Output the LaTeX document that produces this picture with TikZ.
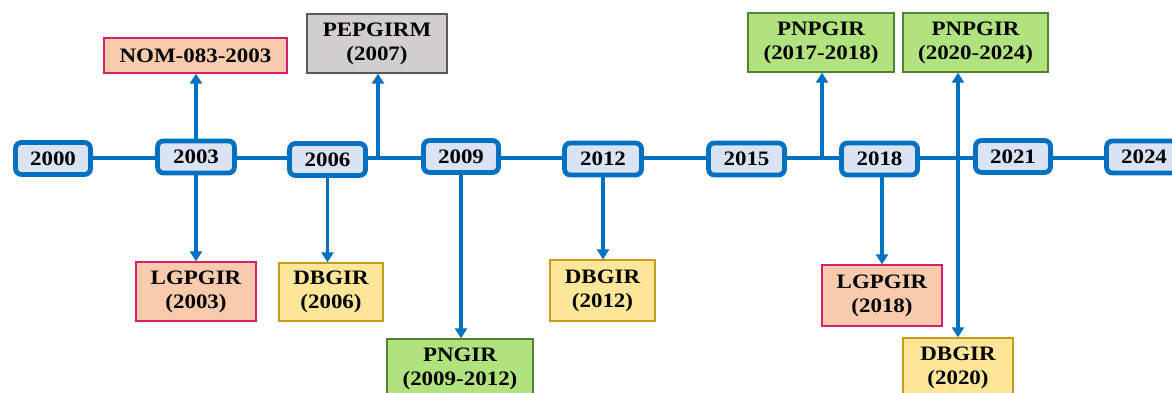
\documentclass[tikz,border=0pt]{standalone}
\usepackage{fontspec}
\setmainfont{Liberation Serif}[FakeStretch=1.12]
\usetikzlibrary{arrows.meta}
\definecolor{tlblue}{RGB}{0,112,192}
\definecolor{yearfill}{RGB}{218,227,243}
\definecolor{pinkfill}{RGB}{248,203,173}
\definecolor{pinkdraw}{RGB}{214,32,110}
\definecolor{yelfill}{RGB}{255,230,153}
\definecolor{yeldraw}{RGB}{196,156,30}
\definecolor{greyfill}{RGB}{208,206,206}
\definecolor{greydraw}{RGB}{89,89,89}
\definecolor{grnfill}{RGB}{176,226,126}
\definecolor{grndraw}{RGB}{84,130,53}
\tikzset{
  txt/.style={font=\bfseries\fontsize{20.5}{24}\selectfont, align=center, inner sep=0pt},
  year/.style={txt, draw=tlblue, fill=yearfill, line width=4.8pt, rounded corners=6pt, minimum width=#1, minimum height=32pt},
  lbl/.style={txt, line width=1.4pt, minimum width=#1},
  pinkbox/.style={lbl=#1, draw=pinkdraw, fill=pinkfill},
  yelbox/.style={lbl=#1, draw=yeldraw, fill=yelfill},
  greybox/.style={lbl=#1, draw=greydraw, fill=greyfill},
  grnbox/.style={lbl=#1, draw=grndraw, fill=grnfill},
  tl/.style={draw=tlblue, line width=4pt},
  arr/.style={draw=tlblue, line width=3.5pt, -{Triangle[width=12pt,length=10pt]}},
  darr/.style={draw=tlblue, line width=3.5pt, {Triangle[width=12pt,length=10pt]}-{Triangle[width=12pt,length=10pt]}}
}
\begin{document}
\begin{tikzpicture}[x=1pt,y=-1pt]
\useasboundingbox[fill=white] (0,0) rectangle (1172,393);
\coordinate (tly) at (0,158);
\coordinate (c07) at (378,158);
\coordinate (c17) at (822,158);
% year nodes
\node[year=75pt] (y2000) at (53,158.5) {2000};
\node[year=77pt] (y2003) at (196,157) {2003};
\node[year=76pt] (y2006) at (327.5,159.5) {2006};
\node[year=75pt] (y2009) at (461,156.5) {2009};
\node[year=77pt] (y2012) at (603,159) {2012};
\node[year=76pt] (y2015) at (746.5,159) {2015};
\node[year=76pt] (y2018) at (879.5,159) {2018};
\node[year=75pt] (y2021) at (1013,156.5) {2021};
\node[year=75pt] (y2024) at (1144,157) {2024};
% timeline segments
\begin{scope}[on background layer/.try]
\end{scope}
\draw[tl] (y2000.east |- tly) -- (y2003.west |- tly);
\draw[tl] (y2003.east |- tly) -- (y2006.west |- tly);
\draw[tl] (y2006.east |- tly) -- (y2009.west |- tly);
\draw[tl] (y2009.east |- tly) -- (y2012.west |- tly);
\draw[tl] (y2012.east |- tly) -- (y2015.west |- tly);
\draw[tl] (y2015.east |- tly) -- (y2018.west |- tly);
\draw[tl] (y2018.east |- tly) -- (y2021.west |- tly);
\draw[tl] (y2021.east |- tly) -- (y2024.west |- tly);
% label boxes
\node[pinkbox=183pt, minimum height=35pt] (nom) at (195.5,55.5) {NOM-083-2003};
\node[greybox=140pt, minimum height=59pt] (pep) at (377,43.5) {PEPGIRM\\(2007)};
\node[pinkbox=120pt, minimum height=59pt] (lg03) at (196,291.5) {LGPGIR\\(2003)};
\node[yelbox=104pt, minimum height=58pt] (db06) at (331,292) {DBGIR\\(2006)};
\node[grnbox=146pt, minimum height=59pt] (pngir) at (460,368.5) {PNGIR\\(2009-2012)};
\node[yelbox=105pt, minimum height=61pt] (db12) at (602.5,290.5) {DBGIR\\(2012)};
\node[grnbox=146pt, minimum height=59pt] (p17) at (821,42.5) {PNPGIR\\(2017-2018)};
\node[grnbox=145pt, minimum height=59pt] (p20) at (975.5,42.5) {PNPGIR\\(2020-2024)};
\node[pinkbox=120pt, minimum height=61pt] (lg18) at (882,295.5) {LGPGIR\\(2018)};
\node[yelbox=110pt, minimum height=60pt] (db20) at (958,368) {DBGIR\\(2020)};
% connectors
\draw[arr] (y2003.north) -- (y2003.north |- nom.south);
\draw[arr] (y2003.south) -- (y2003.south |- lg03.north);
\draw[arr] (y2006.south) -- (y2006.south |- db06.north);
\draw[arr] (c07) -- (c07 |- pep.south);
\draw[arr] (y2009.south) -- (y2009.south |- pngir.north);
\draw[arr] (y2012.south) -- (y2012.south |- db12.north);
\draw[arr] (c17) -- (c17 |- p17.south);
\draw[arr] (lg18.north |- y2018.south) -- (lg18.north);
\draw[darr] (db20.north) -- (db20.north |- p20.south);
\end{tikzpicture}
\end{document}
